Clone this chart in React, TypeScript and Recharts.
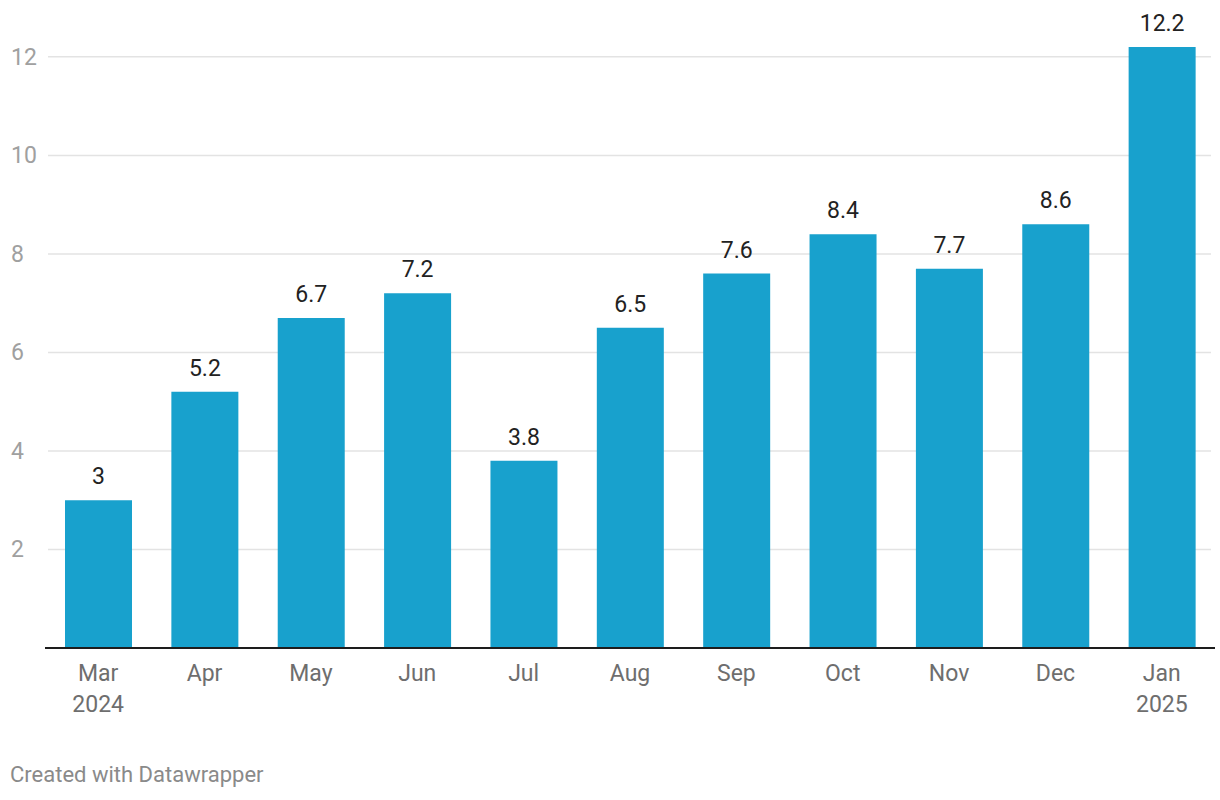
import React from "react";
import { BarChart, Bar, XAxis, YAxis, CartesianGrid, LabelList, ReferenceLine } from "recharts";

const months = ["Mar", "Apr", "May", "Jun", "Jul", "Aug", "Sep", "Oct", "Nov", "Dec", "Jan"];
const years = ["2024", "", "", "", "", "", "", "", "", "", "2025"];
const values = [3, 5.2, 6.7, 7.2, 3.8, 6.5, 7.6, 8.4, 7.7, 8.6, 12.2];
const yTicks = [2, 4, 6, 8, 10, 12];

const data = months.map((m, i) => ({ month: m, year: years[i], value: values[i] }));

const FONT = "Roboto, 'Noto Sans', sans-serif";

const XTick = (props: any) => {
  const { x, y, payload, index } = props;
  const yr = years[index];
  return (
    <g>
      <text x={x} y={y + 25} textAnchor="middle" fill="#6e6e6e" fontSize={23} fontFamily={FONT}>
        {payload.value}
      </text>
      {yr ? (
        <text x={x} y={y + 56} textAnchor="middle" fill="#6e6e6e" fontSize={23} fontFamily={FONT}>
          {yr}
        </text>
      ) : null}
    </g>
  );
};

const YTick = (props: any) => {
  const { y, payload } = props;
  return (
    <text x={11} y={y + 8} textAnchor="start" fill="#a0a0a0" fontSize={23} fontFamily={FONT}>
      {payload.value}
    </text>
  );
};

const ValueLabel = (props: any) => {
  const { x, y, width, value } = props;
  return (
    <text x={x + width / 2} y={y - 16} textAnchor="middle" fill="#222222" fontSize={23} fontFamily={FONT}>
      {value}
    </text>
  );
};

const GridLine = (props: any) => {
  const { x1, x2, y1, y2 } = props;
  return <line x1={x1 + 3} x2={x2 - 4} y1={y1} y2={y2} stroke="#e3e3e3" strokeWidth={1.5} />;
};

export default function App() {
  return (
    <div style={{ position: "absolute", left: 0, top: 0, width: 1220, height: 800, background: "#fff" }}>
      <BarChart
        width={1220}
        height={800}
        data={data}
        margin={{ top: 47, right: 5, bottom: 0, left: 0 }}
        barSize={67}
      >
        <CartesianGrid vertical={false} horizontal={GridLine as any} horizontalValues={yTicks} />
        <XAxis
          dataKey="month"
          axisLine={false}
          tickLine={false}
          tick={<XTick />}
          interval={0}
          height={152}
        />
        <YAxis
          domain={[0, 12.2]}
          ticks={yTicks}
          axisLine={false}
          tickLine={false}
          tick={<YTick />}
          width={45}
          interval={0}
        />
        <Bar dataKey="value" fill="#18a1cd" isAnimationActive={false}>
          <LabelList dataKey="value" content={<ValueLabel />} />
        </Bar>
        <ReferenceLine y={0} stroke="#1d1d1d" strokeWidth={2} />
      </BarChart>
      <div
        style={{
          position: "absolute",
          left: 10,
          top: 762,
          fontFamily: FONT,
          fontSize: 22,
          color: "#8a8a8a",
        }}
      >
        Created with Datawrapper
      </div>
    </div>
  );
}
